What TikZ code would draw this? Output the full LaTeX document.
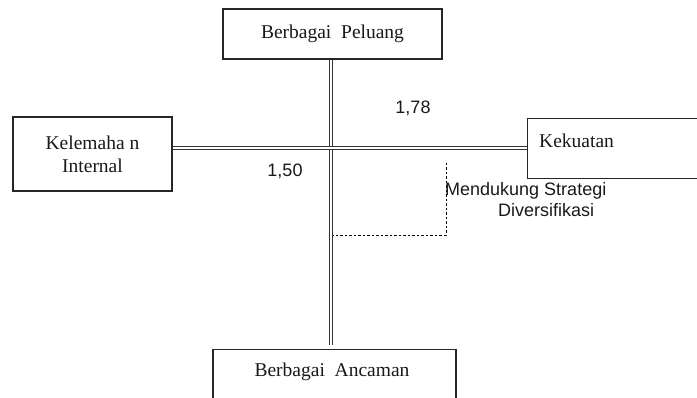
\documentclass[tikz,border=0pt]{standalone}
\usepackage{fontspec}
\setmainfont{Liberation Serif}
\setsansfont{Liberation Sans}
\begin{document}
\begin{tikzpicture}[x=1pt,y=-1pt,
  box/.style={draw=black!85, line width=1.1pt, fill=white, inner sep=0pt},
  serif/.style={font=\fontsize{19.5}{23}\selectfont, text=black!90},
  sans/.style={font=\sffamily\fontsize{18}{21}\selectfont, text=black!90},
  dbl/.style={draw=black!80, double=white, line width=1.3pt, double distance=1.6pt},
  dsh/.style={draw=black, line width=0.8pt, dash pattern=on 2.5pt off 2pt}]
\useasboundingbox (0,0) rectangle (697,398);
\clip (0,0) rectangle (697,398);
\coordinate (c) at (331,148);
\coordinate (vb) at (331,345);
% boxes
\node[box, serif, minimum width=219pt, minimum height=50pt] (top) at (332.5,34) {Berbagai\ \ Peluang};
\node[box, serif, minimum width=159pt, minimum height=74pt, align=center] (left) at (92.5,154) {Kelemaha n\\Internal};
\node[box, minimum width=200pt, minimum height=60pt, anchor=north west] (right) at (527,118) {};
\node[serif, anchor=west, inner sep=0pt] (rightlbl) at (539,141) {Kekuatan};
\node[box, minimum width=243pt, minimum height=60pt, anchor=north] (bot) at (334.5,349) {};
\node[serif, inner sep=0pt] (botlbl) at (332,372) {Berbagai\ \ Ancaman};
% axes
\draw[dbl] (top.south -| c) -- (vb);
\draw[dbl] (left.east |- c) -- (right.west |- c);
% values
\node[sans, inner sep=0pt] (v1) at (413,108) {1,78};
\node[sans, inner sep=0pt] (v2) at (285,171) {1,50};
% dashed quadrant
\coordinate (d1) at (446,163);
\coordinate (d2) at (446,235);
\coordinate (d3) at (333,235);
\draw[dsh] (d1) -- (d2) -- (d3);
\node[sans, anchor=north west, align=left, inner sep=0pt] (strat) at (445,182) {Mendukung Strategi\\\hspace*{53pt}Diversifikasi};
\end{tikzpicture}
\end{document}
